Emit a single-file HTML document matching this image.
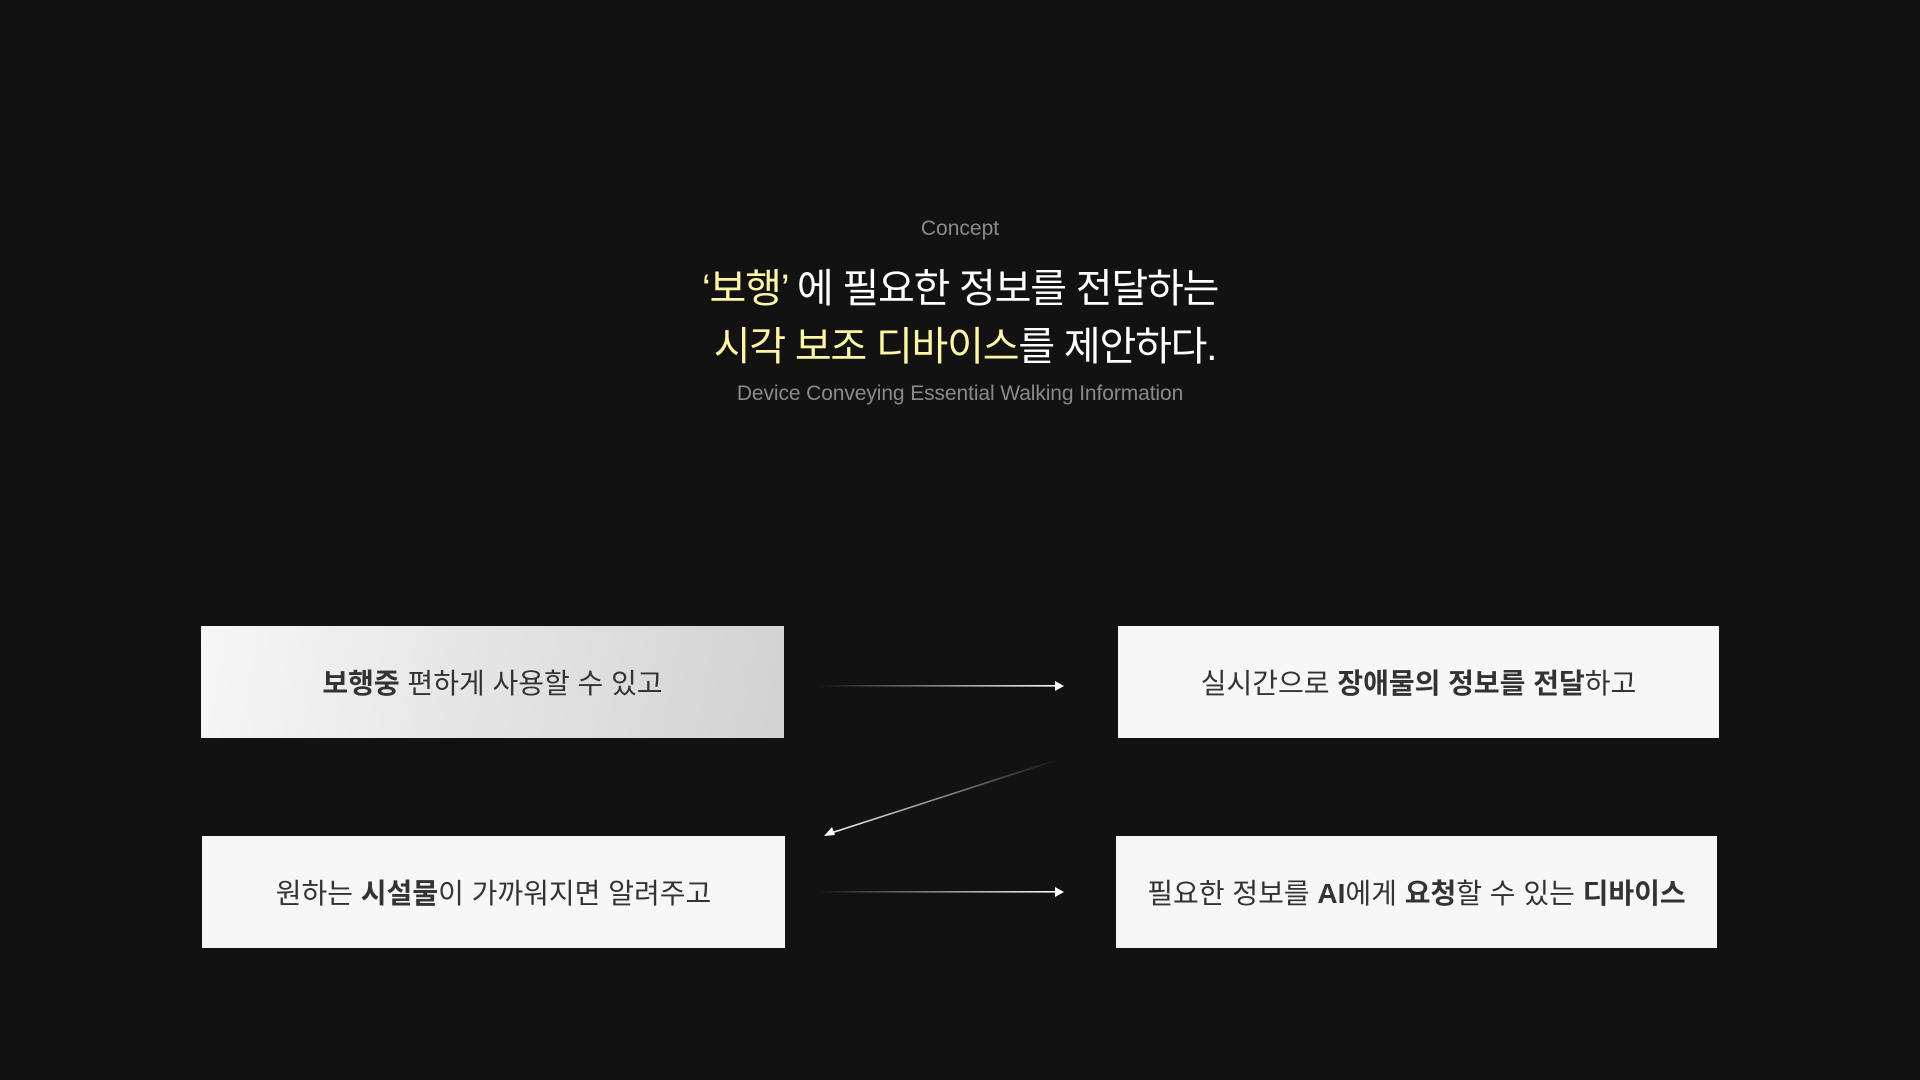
<!DOCTYPE html>
<html><head><meta charset="utf-8"><style>
html,body{margin:0;width:1920px;height:1080px;background:#121212;overflow:hidden;font-family:"Liberation Sans","Noto Sans CJK KR",sans-serif}
.c{position:absolute;left:0;width:1920px;text-align:center}
.box{position:absolute;display:flex;align-items:center;justify-content:center;background:#f7f7f7;color:#333;font-size:28px;letter-spacing:0}
b{font-weight:700}
.y{color:#fff5a6}
</style></head><body>
<div class="c" style="top:217px;font-size:21px;color:#8a8a8a">Concept</div>
<div class="c" style="top:260px;font-size:40px;color:#fff;line-height:58px;letter-spacing:-1.2px"><span class="y">‘보행’</span> 에 필요한 정보를 전달하는<br>&nbsp;<span class="y">시각 보조 디바이스</span>를 제안하다.</div>
<div class="c" style="top:382px;font-size:21px;color:#8a8a8a;letter-spacing:-0.1px">Device Conveying Essential Walking Information</div>

<div class="box" style="left:201px;top:626px;width:583px;height:112px;background:linear-gradient(100deg,#f7f7f7 0%,#e4e4e4 50%,#d2d2d2 100%)"><span><b>보행중</b> 편하게 사용할 수 있고</span></div>
<div class="box" style="left:1118px;top:626px;width:601px;height:112px"><span>실시간으로 <b>장애물의 정보를 전달</b>하고</span></div>
<div class="box" style="left:202px;top:836px;width:583px;height:112px"><span>원하는 <b>시설물</b>이 가까워지면 알려주고</span></div>
<div class="box" style="left:1116px;top:836px;width:601px;height:112px"><span>필요한 정보를 <b>AI</b>에게 <b>요청</b>할 수 있는 <b>디바이스</b></span></div>

<svg width="1920" height="1080" style="position:absolute;left:0;top:0">
<defs>
<linearGradient id="g1" x1="0" x2="1"><stop offset="0" stop-color="#fff" stop-opacity="0"/><stop offset="1" stop-color="#fff"/></linearGradient>
<linearGradient id="g2" gradientUnits="userSpaceOnUse" x1="1060" y1="759" x2="826" y2="834"><stop offset="0" stop-color="#fff" stop-opacity="0"/><stop offset="1" stop-color="#fff"/></linearGradient>
</defs>
<rect x="818" y="685" width="240" height="1.6" fill="url(#g1)"/>
<polygon points="1064,686 1055,681 1055,691" fill="#fff"/>
<rect x="818" y="891" width="240" height="1.6" fill="url(#g1)"/>
<polygon points="1064,892 1055,887 1055,897" fill="#fff"/>
<line x1="1060" y1="759" x2="828" y2="834" stroke="url(#g2)" stroke-width="1.6"/>
<polygon points="824,836 832,827 835,835" fill="#fff"/>
</svg>
</body></html>
